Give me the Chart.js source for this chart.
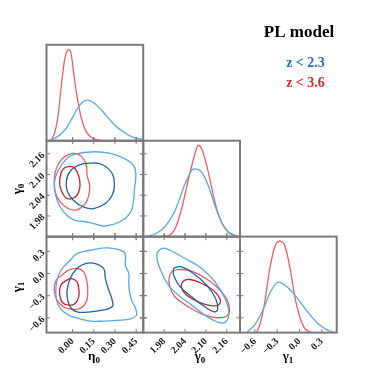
<!DOCTYPE html>
<html>
<head>
<meta charset="utf-8">
<script src="https://cdn.jsdelivr.net/npm/chart.js@4.4.1/dist/chart.umd.min.js"></script>
<style>
  html, body { margin: 0; padding: 0; background: #fff; }
  #wrap { position: relative; width: 374px; height: 374px; }
  #wrap canvas { position: absolute; left: 0; top: 0; }
</style>
</head>
<body>
<div id="wrap"></div>
<script>
// Labels
const titleText = "PL model";
const legendLabels = ["z < 2.3", "z < 3.6"];

// Axis ranges and ticks
const eta0Range = [-0.185, 0.5];
const gamma0Range = [1.92, 2.198];
const gamma1Range = [-0.8, 0.5];
const densRange = [0, 1.05];

const eta0Ticks = [0.0, 0.15, 0.3, 0.45];
const eta0TickLabels = ["0.00", "0.15", "0.30", "0.45"];
const gamma0Ticks = [1.98, 2.04, 2.1, 2.16];
const gamma0TickLabels = ["1.98", "2.04", "2.10", "2.16"];
const gamma1Ticks = [-0.6, -0.3, 0.0, 0.3];
const gamma1TickLabels = ["\u22120.6", "\u22120.3", "0.0", "0.3"];

// 1D marginals (relative density), Low = z < 2.3, High = z < 3.6
const eta0PdfLow = [[-0.155, 0.005], [-0.092, 0.062], [-0.045, 0.136], [0.002, 0.263], [0.05, 0.39], [0.102, 0.445], [0.156, 0.409], [0.215, 0.317], [0.287, 0.19], [0.358, 0.098], [0.429, 0.037], [0.5, 0.015]];
const eta0PdfHigh = [[-0.155, 0], [-0.128, 0.081], [-0.104, 0.263], [-0.081, 0.591], [-0.057, 0.883], [-0.028, 1.0], [-0.009, 0.937], [0.014, 0.664], [0.038, 0.427], [0.062, 0.245], [0.097, 0.098], [0.144, 0.026], [0.192, 0.005], [0.263, 0]];
const gamma0PdfLow = [[1.925, 0], [1.954, 0.03], [1.983, 0.113], [2.011, 0.284], [2.04, 0.576], [2.065, 0.742], [2.088, 0.704], [2.107, 0.558], [2.126, 0.339], [2.145, 0.157], [2.164, 0.055], [2.193, 0.004]];
const gamma0PdfHigh = [[1.963, 0], [1.992, 0.011], [2.011, 0.084], [2.03, 0.303], [2.05, 0.631], [2.067, 0.886], [2.078, 1.0], [2.09, 0.941], [2.107, 0.704], [2.126, 0.376], [2.145, 0.157], [2.164, 0.048], [2.188, 0.004]];
const gamma1PdfLow = [[-0.713, 0], [-0.6, 0.0875], [-0.488, 0.252], [-0.398, 0.434], [-0.285, 0.551], [-0.15, 0.489], [-0.015, 0.361], [0.12, 0.215], [0.255, 0.095], [0.39, 0.022], [0.48, 0]];
const gamma1PdfHigh = [[-0.578, 0], [-0.533, 0.0875], [-0.465, 0.343], [-0.398, 0.707], [-0.33, 0.944], [-0.263, 1.0], [-0.195, 0.944], [-0.128, 0.707], [-0.06, 0.379], [0.008, 0.16], [0.075, 0.04], [0.165, 0]];

// 2D contours (68% and 95%)
const eta0Gamma0Low95 = [[0.019, 2.159], [0.149, 2.166], [0.268, 2.161], [0.374, 2.145], [0.434, 2.125], [0.448, 2.098], [0.438, 2.059], [0.429, 2.016], [0.405, 1.987], [0.339, 1.964], [0.232, 1.951], [0.149, 1.958], [0.078, 1.964], [0.019, 1.967], [-0.036, 1.98], [-0.088, 2.006], [-0.12, 2.04], [-0.128, 2.079], [-0.1, 2.113], [-0.045, 2.145]];
const eta0Gamma0Low68 = [[0.126, 2.133], [0.209, 2.129], [0.28, 2.103], [0.296, 2.069], [0.28, 2.04], [0.232, 2.016], [0.149, 2.001], [0.078, 2.006], [0.007, 2.025], [-0.036, 2.05], [-0.045, 2.079], [-0.021, 2.108], [0.043, 2.127]];
const eta0Gamma0High95 = [[0.019, 2.161], [0.066, 2.151], [0.097, 2.127], [0.102, 2.098], [0.121, 2.069], [0.114, 2.04], [0.09, 2.016], [0.031, 1.998], [-0.028, 2.001], [-0.088, 2.021], [-0.123, 2.05], [-0.13, 2.084], [-0.116, 2.117], [-0.076, 2.145], [-0.028, 2.158]];
const eta0Gamma0High68 = [[-0.04, 2.122], [0.002, 2.122], [0.031, 2.108], [0.05, 2.084], [0.05, 2.059], [0.031, 2.04], [-0.005, 2.03], [-0.045, 2.032], [-0.076, 2.05], [-0.092, 2.074], [-0.083, 2.103], [-0.064, 2.117]];

const eta0Gamma1Low95 = [[-0.017, 0.18], [0.031, 0.27], [0.126, 0.315], [0.232, 0.347], [0.292, 0.338], [0.363, 0.293], [0.374, 0.248], [0.374, 0.113], [0.398, 0.0], [0.398, -0.113], [0.405, -0.27], [0.422, -0.383], [0.446, -0.473], [0.453, -0.563], [0.422, -0.608], [0.339, -0.631], [0.22, -0.644], [0.126, -0.644], [0.043, -0.608], [-0.028, -0.563], [-0.088, -0.473], [-0.116, -0.338], [-0.116, -0.158], [-0.1, -0.023], [-0.064, 0.09]];
const eta0Gamma1Low68 = [[-0.04, -0.27], [-0.017, -0.068], [0.031, 0.068], [0.09, 0.135], [0.161, 0.135], [0.22, 0.068], [0.232, -0.068], [0.256, -0.225], [0.28, -0.36], [0.28, -0.451], [0.209, -0.496], [0.126, -0.518], [0.031, -0.518], [-0.017, -0.451]];
const eta0Gamma1High95 = [[-0.076, -0.023], [-0.028, 0.045], [0.031, 0.068], [0.078, 0.023], [0.102, -0.113], [0.107, -0.248], [0.097, -0.383], [0.055, -0.473], [-0.005, -0.482], [-0.064, -0.451], [-0.111, -0.36], [-0.13, -0.225], [-0.116, -0.09]];
const eta0Gamma1High68 = [[-0.04, -0.09], [-0.005, -0.068], [0.031, -0.113], [0.043, -0.203], [0.043, -0.315], [0.019, -0.405], [-0.028, -0.428], [-0.076, -0.383], [-0.092, -0.27], [-0.083, -0.158]];

const gamma0Gamma1Low95 = [[1.973, 0.338], [1.997, 0.315], [2.04, 0.203], [2.088, 0.068], [2.126, -0.113], [2.155, -0.338], [2.166, -0.541], [2.155, -0.662], [2.131, -0.653], [2.097, -0.563], [2.059, -0.428], [2.021, -0.293], [1.992, -0.158], [1.968, 0.068], [1.959, 0.248]];
const gamma0Gamma1Low68 = [[2.011, 0.081], [2.03, 0.09], [2.064, 0.0], [2.102, -0.158], [2.128, -0.338], [2.134, -0.482], [2.124, -0.518], [2.097, -0.451], [2.059, -0.315], [2.026, -0.18], [2.009, -0.045], [2.006, 0.045]];
const gamma0Gamma1High95 = [[2.002, 0.023], [2.021, 0.054], [2.059, 0.032], [2.107, -0.09], [2.145, -0.248], [2.166, -0.428], [2.163, -0.563], [2.136, -0.599], [2.097, -0.563], [2.05, -0.451], [2.011, -0.315], [1.995, -0.158], [1.995, -0.045]];
const gamma0Gamma1High68 = [[2.035, -0.104], [2.054, -0.081], [2.088, -0.135], [2.121, -0.225], [2.14, -0.338], [2.138, -0.419], [2.117, -0.437], [2.078, -0.383], [2.045, -0.293], [2.03, -0.194]];

// Colours
const colLow = "#58a8e6";
const colLowDark = "#1f62a8";
const colHigh = "#f25c5c";
const colHighDark = "#c8202a";
const colLegendLow = "#2370b6";
const colLegendHigh = "#d92a2a";
const frameColor = "#7a7a7a";

// Panel grid (pixels)
const colLeft = [46.5, 143.3, 240.0];
const colW = 96.7;
const rowTop = [44.8, 140.7, 236.6];
const rowH = 96;
const AXIS_SIZE = 30;

const axes = {
  eta0: { range: eta0Range, ticks: eta0Ticks, labels: eta0TickLabels },
  gamma0: { range: gamma0Range, ticks: gamma0Ticks, labels: gamma0TickLabels },
  gamma1: { range: gamma1Range, ticks: gamma1Ticks, labels: gamma1TickLabels },
  dens: { range: densRange, ticks: [], labels: [] },
};

const panels = [
  { col: 0, row: 0, x: "eta0", y: "dens", pdfs: [[eta0PdfLow, colLow], [eta0PdfHigh, colHigh]] },
  { col: 0, row: 1, x: "eta0", y: "gamma0", loops: [[eta0Gamma0Low95, colLow], [eta0Gamma0Low68, colLowDark], [eta0Gamma0High95, colHigh], [eta0Gamma0High68, colHighDark]] },
  { col: 1, row: 1, x: "gamma0", y: "dens", pdfs: [[gamma0PdfLow, colLow], [gamma0PdfHigh, colHigh]] },
  { col: 0, row: 2, x: "eta0", y: "gamma1", loops: [[eta0Gamma1Low95, colLow], [eta0Gamma1Low68, colLowDark], [eta0Gamma1High95, colHigh], [eta0Gamma1High68, colHighDark]] },
  { col: 1, row: 2, x: "gamma0", y: "gamma1", loops: [[gamma0Gamma1Low95, colLow], [gamma0Gamma1Low68, colLowDark], [gamma0Gamma1High95, colHigh], [gamma0Gamma1High68, colHighDark]] },
  { col: 2, row: 2, x: "gamma1", y: "dens", pdfs: [[gamma1PdfLow, colLow], [gamma1PdfHigh, colHigh]] },
];

const tickFont = { family: "'Liberation Serif', 'DejaVu Serif', serif", weight: "bold", size: 10 };

// Scale options for one axis
function axisOptions(key, show, isX) {
  const a = axes[key];
  return {
    type: "linear",
    display: show,
    min: a.range[0],
    max: a.range[1],
    grid: { display: false, drawTicks: false },
    border: { display: false },
    afterBuildTicks: (s) => {
      if (a.ticks.length) s.ticks = a.ticks.map((v) => ({ value: v }));
    },
    afterFit: (s) => {
      const size = show ? AXIS_SIZE : 0;
      if (isX) s.height = size;
      else s.width = size;
      s.paddingLeft = 0;
      s.paddingRight = 0;
      s.paddingTop = 0;
      s.paddingBottom = 0;
    },
    ticks: {
      autoSkip: false,
      minRotation: 45,
      maxRotation: 45,
      padding: 3,
      color: "#1a1a1a",
      font: tickFont,
      callback: (v, i) => a.labels[i],
    },
  };
}

// Closed contour: wrap points so the spline is smooth at the join, hide the extra segments
function loopDataset(pts, color) {
  const n = pts.length;
  const ring = [pts[n - 1], ...pts, pts[0], pts[1]].map((p) => ({ x: p[0], y: p[1] }));
  const last = ring.length - 2;
  return {
    data: ring,
    showLine: true,
    borderColor: color,
    borderWidth: 1.3,
    pointRadius: 0,
    tension: 0.45,
    fill: false,
    segment: {
      borderColor: (c) => (c.p0DataIndex === 0 || c.p0DataIndex === last ? "rgba(0,0,0,0)" : undefined),
    },
  };
}

function pdfDataset(pts, color) {
  return {
    data: pts.map((p) => ({ x: p[0], y: p[1] })),
    showLine: true,
    borderColor: color,
    borderWidth: 1.3,
    pointRadius: 0,
    cubicInterpolationMode: "monotone",
    fill: false,
  };
}

// Frame and tick marks around each panel
const panelFrame = {
  id: "panelFrame",
  afterDatasetsDraw(chart, args, opts) {
    const { ctx, chartArea: a, scales } = chart;
    const tl = 3.5;
    ctx.save();
    ctx.strokeStyle = frameColor;
    ctx.lineWidth = 1;
    ctx.beginPath();
    opts.xTicks.forEach((v) => {
      const px = scales.x.getPixelForValue(v);
      ctx.moveTo(px, a.bottom - tl);
      ctx.lineTo(px, a.bottom + (opts.outerBottom || opts.diag ? 0 : tl));
      if (!opts.diag) {
        ctx.moveTo(px, a.top - tl);
        ctx.lineTo(px, a.top + tl);
      }
    });
    if (!opts.diag) {
      opts.yTicks.forEach((v) => {
        const py = scales.y.getPixelForValue(v);
        ctx.moveTo(a.left - (opts.outerLeft ? 0 : tl), py);
        ctx.lineTo(a.left + tl, py);
        ctx.moveTo(a.right - tl, py);
        ctx.lineTo(a.right + tl, py);
      });
    }
    ctx.stroke();
    ctx.lineWidth = 2;
    ctx.strokeRect(a.left, a.top, a.right - a.left, a.bottom - a.top);
    ctx.restore();
  },
};

function subLabel(ctx, base, sub, cx, cy, angle) {
  const f1 = "bold 13px 'Liberation Serif'";
  const f2 = "bold 9px 'Liberation Serif'";
  ctx.save();
  ctx.translate(cx, cy);
  ctx.rotate(angle);
  ctx.font = f1;
  const w1 = ctx.measureText(base).width;
  ctx.font = f2;
  const w2 = ctx.measureText(sub).width;
  const x0 = -(w1 + w2) / 2;
  ctx.textAlign = "left";
  ctx.textBaseline = "alphabetic";
  ctx.fillStyle = "#000";
  ctx.font = f1;
  ctx.fillText(base, x0, 0);
  ctx.font = f2;
  ctx.fillText(sub, x0 + w1, 3);
  ctx.restore();
}

// Title, legend and axis names
const textLayer = {
  id: "textLayer",
  afterDraw(chart) {
    const ctx = chart.ctx;
    ctx.save();
    ctx.textAlign = "center";
    ctx.textBaseline = "alphabetic";
    ctx.fillStyle = "#000";
    ctx.font = "bold 17px 'Liberation Serif'";
    ctx.fillText(titleText, 299, 37);
    ctx.font = "bold 14px 'Liberation Serif'";
    ctx.fillStyle = colLegendLow;
    ctx.fillText(legendLabels[0], 305.5, 67);
    ctx.fillStyle = colLegendHigh;
    ctx.fillText(legendLabels[1], 305.5, 87);
    ctx.restore();

    subLabel(ctx, "\u03b7", "0", 94, 360, 0);
    subLabel(ctx, "\u03b3", "0", 200, 360, 0);
    subLabel(ctx, "\u03b3", "1", 288, 360, 0);
    subLabel(ctx, "\u03b3", "0", 20.5, 189, -Math.PI / 2);
    subLabel(ctx, "\u03b3", "1", 20.5, 287, -Math.PI / 2);
  },
};

const wrap = document.getElementById("wrap");

panels.forEach((p, idx) => {
  const canvas = document.createElement("canvas");
  canvas.width = 374;
  canvas.height = 374;
  canvas.style.width = "374px";
  canvas.style.height = "374px";
  wrap.appendChild(canvas);

  const diag = p.y === "dens";
  const showX = p.row === 2;
  const showY = p.col === 0 && p.row > 0;

  const datasets = diag
    ? p.pdfs.map((d) => pdfDataset(d[0], d[1]))
    : p.loops.map((d) => loopDataset(d[0], d[1]));

  const left = colLeft[p.col] - (showY ? AXIS_SIZE : 0);
  const right = 374 - (colLeft[p.col] + colW);
  const top = rowTop[p.row];
  const bottom = 374 - (rowTop[p.row] + rowH) - (showX ? AXIS_SIZE : 0);

  new Chart(canvas.getContext("2d"), {
    type: "scatter",
    data: { datasets: datasets },
    options: {
      responsive: false,
      animation: false,
      events: [],
      layout: { padding: { left: left, right: right, top: top, bottom: bottom } },
      plugins: {
        legend: { display: false },
        tooltip: { enabled: false },
        panelFrame: {
          diag: diag,
          xTicks: axes[p.x].ticks,
          yTicks: axes[p.y].ticks,
          outerLeft: p.col === 0,
          outerBottom: p.row === 2,
        },
      },
      scales: {
        x: axisOptions(p.x, showX, true),
        y: axisOptions(p.y, showY, false),
      },
    },
    plugins: idx === panels.length - 1 ? [panelFrame, textLayer] : [panelFrame],
  });
});
</script>
</body>
</html>
